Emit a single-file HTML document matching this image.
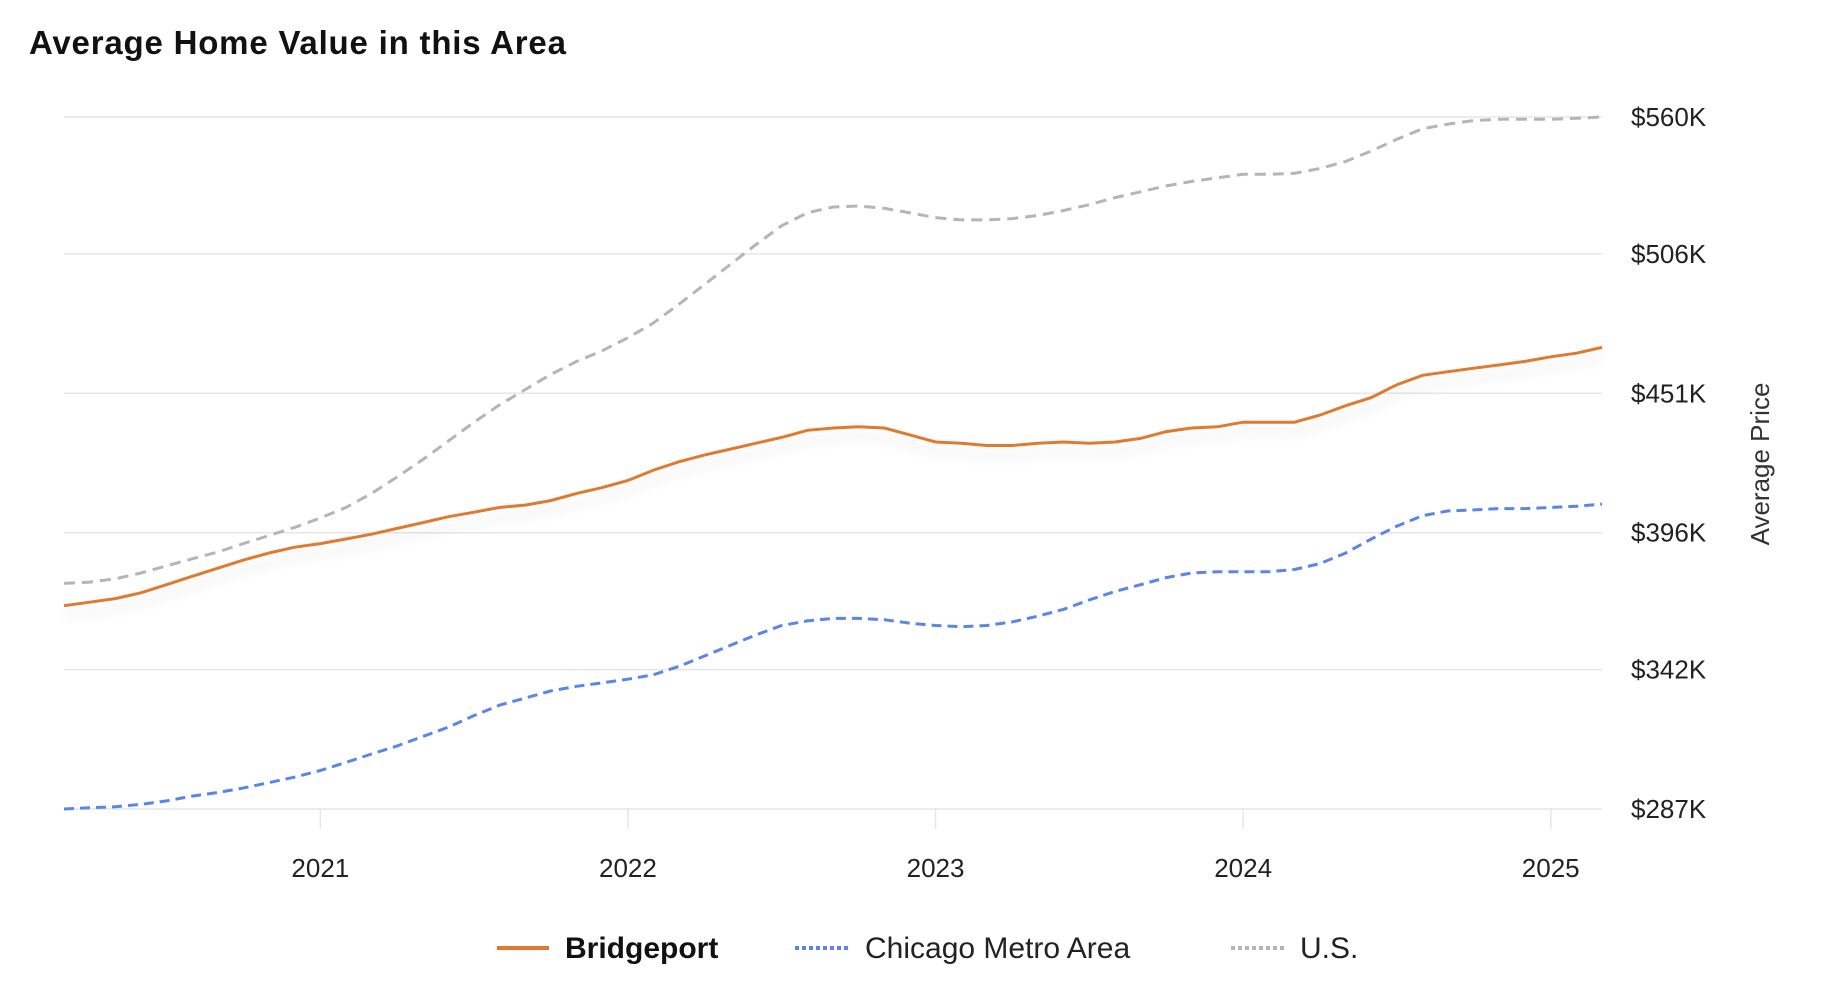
<!DOCTYPE html>
<html><head><meta charset="utf-8"><style>
body{margin:0;background:#fff;width:1824px;height:984px;overflow:hidden;font-family:"Liberation Sans",sans-serif}
</style></head><body>
<svg id="chart" width="1824" height="984">
<defs><filter id="sh" x="-5%" y="-20%" width="110%" height="160%"><feGaussianBlur in="SourceAlpha" stdDeviation="6"/><feOffset dy="10"/><feComponentTransfer><feFuncA type="linear" slope="0.12"/></feComponentTransfer><feMerge><feMergeNode/><feMergeNode in="SourceGraphic"/></feMerge></filter></defs>
<text x="29" y="54" font-size="33" font-weight="bold" fill="#111" letter-spacing="0.8">Average Home Value in this Area</text>
<g id="grid"></g><g id="lines"></g>
<text transform="translate(1769,464) rotate(-90)" text-anchor="middle" font-size="26" fill="#333">Average Price</text>
<g>
<g><line x1="497" y1="948" x2="549" y2="948" stroke="#e07a2e" stroke-width="4"/><text x="565" y="958" font-size="30" font-weight="bold" fill="#111">Bridgeport</text></g>
<g><line x1="795" y1="948" x2="848" y2="948" stroke="#5b85e8" stroke-width="4" stroke-dasharray="4,3"/><text x="865" y="958" font-size="30" fill="#222">Chicago Metro Area</text></g>
<g><line x1="1231" y1="948" x2="1284" y2="948" stroke="#b5b5b5" stroke-width="4" stroke-dasharray="4,3"/><text x="1300" y="958" font-size="30" fill="#222">U.S.</text></g>
</g>
</svg>
<script>
const yTicks=[287,342,396,451,506,560];
const yTickLabels=["$287K","$342K","$396K","$451K","$506K","$560K"];
const xTickIndex=[10,22,34,46,58];
const xTickLabels=["2021","2022","2023","2024","2025"];
const bridgeport=[367.2,368.6,370.0,372.3,375.5,378.8,382.0,385.2,388.0,390.3,391.7,393.5,395.4,397.7,400.0,402.3,404.1,406.0,406.9,408.7,411.5,413.8,416.6,420.7,424.0,426.7,429.0,431.3,433.6,436.4,437.3,437.8,437.3,434.6,431.8,431.3,430.4,430.4,431.3,431.8,431.3,431.8,433.2,435.9,437.3,437.8,439.6,439.6,439.6,442.4,446.1,449.3,454.4,458.1,459.5,460.9,462.2,463.6,465.4,466.8,469.1];
const chicago=[287.0,287.5,287.9,288.8,290.2,292.1,293.5,295.3,297.4,299.6,302.2,305.4,308.7,311.9,315.6,319.3,323.9,328.0,330.8,333.6,335.4,336.8,338.2,340.0,343.3,347.4,351.6,355.7,359.4,361.2,362.2,362.2,361.7,360.3,359.4,358.9,359.4,360.8,363.1,365.8,369.5,372.8,375.5,378.3,380.1,380.6,380.6,380.6,381.5,383.8,388.0,393.5,398.6,402.7,404.6,405.0,405.5,405.5,406.0,406.4,407.3];
const us=[376.0,376.5,377.8,380.1,382.9,385.7,388.4,391.7,394.9,398.1,401.8,406.0,411.5,418.0,424.9,432.2,439.6,446.5,452.5,458.5,463.6,467.8,472.9,478.8,486.2,494.0,501.9,509.7,517.1,522.2,524.5,524.9,524.0,522.2,520.3,519.4,519.4,519.9,521.2,523.1,525.4,528.2,530.5,532.8,534.6,536.0,537.4,537.4,537.8,539.7,542.5,546.6,551.2,555.4,557.2,558.6,559.1,559.1,559.1,559.5,560.0];
const NS="http://www.w3.org/2000/svg";
const X0=64,X1=1602,Y0=809,Y1=117,N=bridgeport.length;
const xs=i=>X0+(X1-X0)*i/(N-1);
const ys=v=>Y0+(Y1-Y0)*(v-287)/(560-287);
function mk(t,a,p){const e=document.createElementNS(NS,t);for(const k in a)e.setAttribute(k,a[k]);p.appendChild(e);return e;}
const grid=document.getElementById('grid'),lines=document.getElementById('lines');
yTicks.forEach((v,i)=>{
 const l=mk('line',{x1:X0,x2:X1,y1:ys(v),y2:ys(v),stroke:'#e6e6e6','stroke-width':1.5},grid);
 
 
 const t=mk('text',{x:1631,y:ys(v)+9,'font-size':26,fill:'#222'},grid);t.textContent=yTickLabels[i];
 
 
});
xTickIndex.forEach((ix,i)=>{
 const l=mk('line',{x1:xs(ix),x2:xs(ix),y1:Y0,y2:Y0+20,stroke:'#e6e6e6','stroke-width':1.5},grid);
 
 
 const t=mk('text',{x:xs(ix),y:877,'font-size':26,fill:'#222','text-anchor':'middle'},grid);t.textContent=xTickLabels[i];
 
 
});
function path(arr){return arr.map((v,i)=>(i?'L':'M')+xs(i).toFixed(1)+','+ys(v).toFixed(1)).join('');}
const pu=mk('path',{d:path(us),fill:'none',stroke:'#b5b5b5','stroke-width':3,'stroke-dasharray':'11,7'},lines);


const pc=mk('path',{d:path(chicago),fill:'none',stroke:'#5b85e8','stroke-width':3,'stroke-dasharray':'10,6'},lines);


const pb=mk('path',{d:path(bridgeport),fill:'none',stroke:'#e07a2e','stroke-width':3,filter:'url(#sh)'},lines);


</script>
</body></html>
